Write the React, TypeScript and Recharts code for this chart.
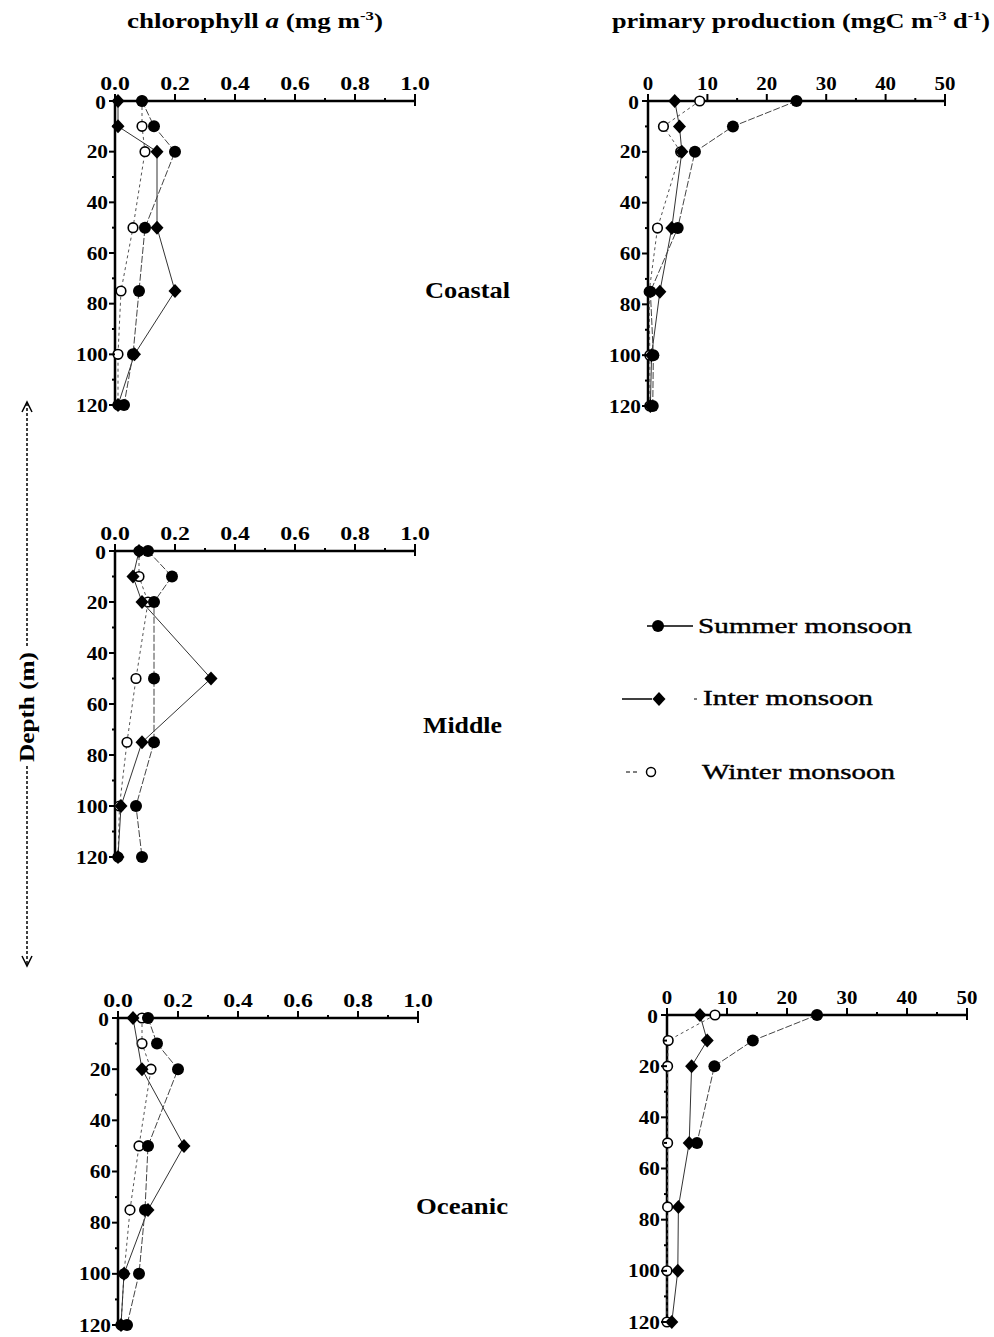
import React from 'react';
import { ScatterChart, Scatter, XAxis, YAxis } from 'recharts';

// ---------- data ----------
const depths = [0, 10, 20, 50, 75, 100, 120];
const depthTicks = [0, 10, 20, 30, 40, 50, 60, 70, 80, 90, 100, 110, 120];
const chlTicks = [0, 0.1, 0.2, 0.3, 0.4, 0.5, 0.6, 0.7, 0.8, 0.9, 1.0];
const ppTicks = [0, 5, 10, 15, 20, 25, 30, 35, 40, 45, 50];

// Coastal chlorophyll a (mg m-3)
const coastalChlSummer = [0.09, 0.13, 0.2, 0.1, 0.08, 0.06, 0.03];
const coastalChlInter = [0.01, 0.01, 0.14, 0.14, 0.2, 0.065, 0.01];
const coastalChlWinter = [0.09, 0.09, 0.1, 0.06, 0.02, 0.01, 0.01];

// Coastal primary production (mgC m-3 d-1)
const coastalPPSummer = [25, 14.3, 7.9, 5.0, 0.4, 0.9, 0.8];
const coastalPPInter = [4.5, 5.3, 5.7, 4.0, 2.0, 0.6, 0.4];
const coastalPPWinter = [8.7, 2.6, 5.5, 1.6, 0.2, 0.3, 0.3];

// Middle chlorophyll a
const middleChlSummer = [0.11, 0.19, 0.13, 0.13, 0.13, 0.07, 0.09];
const middleChlInter = [0.08, 0.06, 0.09, 0.32, 0.09, 0.02, 0.01];
const middleChlWinter = [0.08, 0.08, 0.11, 0.07, 0.04, 0.015, 0.01];

// Oceanic chlorophyll a
const oceanicChlSummer = [0.1, 0.13, 0.2, 0.1, 0.09, 0.07, 0.03];
const oceanicChlInter = [0.05, null, 0.08, 0.22, 0.1, 0.02, 0.01];
const oceanicChlWinter = [0.08, 0.08, 0.11, 0.07, 0.04, 0.02, 0.01];

// Oceanic primary production
const oceanicPPSummer = [25, 14.3, 7.9, 5.0, null, null, null];
const oceanicPPInter = [5.5, 6.7, 4.1, 3.7, 1.9, 1.8, 0.8];
const oceanicPPWinter = [8.0, 0.2, 0.1, 0.1, 0.1, 0.0, 0.0];

const seriesNames = ['Summer monsoon', 'Inter monsoon', 'Winter monsoon'];
const regionNames = ['Coastal', 'Middle', 'Oceanic'];

// ---------- helpers ----------
const FONT = "'Liberation Serif', 'Times New Roman', serif";

const toPoints = (vals: (number | null)[]) =>
  depths
    .map((d, i) => ({ x: vals[i], y: d }))
    .filter((p) => p.x !== null && p.x !== undefined) as { x: number; y: number }[];

const SummerDot = (p: any) => <circle cx={p.cx} cy={p.cy} r={6} fill="#000" />;
const InterDot = (p: any) => (
  <polygon
    points={`${p.cx},${p.cy - 7} ${p.cx + 6.5},${p.cy} ${p.cx},${p.cy + 7} ${p.cx - 6.5},${p.cy}`}
    fill="#000"
  />
);
const WinterDot = (p: any) => (
  <circle cx={p.cx} cy={p.cy} r={4.8} fill="#fff" stroke="#000" strokeWidth={1.6} />
);

const AXIS_X = 70; // y-axis line x within chart svg
const AXIS_Y = 50; // x-axis line y within chart svg

const charWidth = (s: string) =>
  s.split('').reduce((a, c) => a + (c === '.' ? 0.25 : 0.5), 0);

const makeXTick =
  (kind: 'chl' | 'pp') =>
  (props: any) => {
    const { x, payload } = props;
    const v: number = payload.value;
    const major = kind === 'chl' ? Math.round(v * 10) % 2 === 0 : Math.round(v) % 10 === 0;
    const isEnd = kind === 'chl' ? Math.abs(v - 1) < 1e-9 : v === 50;
    const label = kind === 'chl' ? v.toFixed(1) : String(v);
    const fs = 19;
    const stretch = kind === 'chl' ? 1.25 : 1.1;
    return (
      <g>
        <line x1={x} x2={x} y1={AXIS_Y} y2={AXIS_Y - (major ? 7 : 3)} stroke="#000" strokeWidth={2} />
        {isEnd && <line x1={x} x2={x} y1={AXIS_Y} y2={AXIS_Y + 5} stroke="#000" strokeWidth={2} />}
        {major && (
          <text
            x={x}
            y={AXIS_Y - 11}
            textAnchor="middle"
            style={{ fontFamily: FONT, fontWeight: 'bold', fontSize: fs }}
            fill="#000"
            textLength={charWidth(label) * fs * stretch}
            lengthAdjust="spacingAndGlyphs"
          >
            {label}
          </text>
        )}
      </g>
    );
  };

const YTick = (props: any) => {
  const { y, payload } = props;
  const v: number = payload.value;
  const major = v % 20 === 0;
  const label = String(v);
  const fs = 19;
  return (
    <g>
      <line x1={AXIS_X} x2={AXIS_X - (major ? 6 : 3)} y1={y} y2={y} stroke="#000" strokeWidth={2} />
      {major && (
        <text
          x={AXIS_X - (v === 0 ? 9 : 7)}
          y={y + (v === 0 ? 8 : 6.5)}
          textAnchor="end"
          style={{ fontFamily: FONT, fontWeight: 'bold', fontSize: fs }}
          fill="#000"
          textLength={charWidth(label) * fs * 1.12}
          lengthAdjust="spacingAndGlyphs"
        >
          {label}
        </text>
      )}
    </g>
  );
};

const ChlTick = makeXTick('chl');
const PPTick = makeXTick('pp');

type PanelProps = {
  box: [number, number, number, number];
  kind: 'chl' | 'pp';
  summer: (number | null)[];
  inter: (number | null)[];
  winter: (number | null)[];
};

const Panel = ({ box, kind, summer, inter, winter }: PanelProps) => {
  const [x0, y0, x1, y1] = box;
  const width = x1 - x0 + 100;
  const height = y1 - y0 + 60;
  const domain = kind === 'chl' ? [0, 1] : [0, 50];
  return (
    <div style={{ position: 'absolute', left: x0 - 70, top: y0 - 50, width, height }}>
      <ScatterChart width={width} height={height} margin={{ top: 20, left: 10, right: 30, bottom: 10 }}>
        <XAxis
          type="number"
          dataKey="x"
          orientation="top"
          domain={domain}
          ticks={kind === 'chl' ? chlTicks : ppTicks}
          interval={0}
          height={30}
          tick={kind === 'chl' ? ChlTick : PPTick}
          tickLine={false}
          tickSize={6}
          tickMargin={2}
          axisLine={{ stroke: '#000', strokeWidth: 2.5 }}
        />
        <YAxis
          type="number"
          dataKey="y"
          reversed
          domain={[0, 120]}
          ticks={depthTicks}
          interval={0}
          width={60}
          tick={YTick}
          tickLine={false}
          tickSize={6}
          tickMargin={2}
          axisLine={{ stroke: '#000', strokeWidth: 2.5 }}
        />
        <Scatter
          name={seriesNames[2]}
          data={toPoints(winter)}
          line={{ stroke: '#555', strokeWidth: 1, strokeDasharray: '3 3' }}
          lineType="joint"
          shape={WinterDot}
          isAnimationActive={false}
        />
        <Scatter
          name={seriesNames[1]}
          data={toPoints(inter)}
          line={{ stroke: '#333', strokeWidth: 1 }}
          lineType="joint"
          shape={InterDot}
          isAnimationActive={false}
        />
        <Scatter
          name={seriesNames[0]}
          data={toPoints(summer)}
          line={{ stroke: '#444', strokeWidth: 1, strokeDasharray: '7 2' }}
          lineType="joint"
          shape={SummerDot}
          isAnimationActive={false}
        />
      </ScatterChart>
    </div>
  );
};

const T = (p: any) => <text {...p} style={{ fontFamily: FONT, ...(p.style || {}) }} />;

const Overlay = () => (
  <svg
    width={994}
    height={1337}
    style={{ position: 'absolute', left: 0, top: 0, pointerEvents: 'none', fontFamily: FONT }}
  >
    {/* headers */}
    <T x={127} y={28} fontSize={21} fontWeight="bold" textLength={256} lengthAdjust="spacingAndGlyphs">
      chlorophyll <tspan fontStyle="italic">a</tspan> (mg m
      <tspan fontSize={13} dy={-8}>-3</tspan>
      <tspan dy={8}>)</tspan>
    </T>
    <T x={612} y={28} fontSize={21} fontWeight="bold" textLength={378} lengthAdjust="spacingAndGlyphs">
      primary production (mgC m<tspan fontSize={13} dy={-8}>-3</tspan>
      <tspan dy={8}> d</tspan>
      <tspan fontSize={13} dy={-8}>-1</tspan>
      <tspan dy={8}>)</tspan>
    </T>

    {/* region labels */}
    <T x={425} y={298} fontSize={24} fontWeight="bold" textLength={85} lengthAdjust="spacingAndGlyphs">
      {regionNames[0]}
    </T>
    <T x={423} y={733} fontSize={24} fontWeight="bold" textLength={79} lengthAdjust="spacingAndGlyphs">
      {regionNames[1]}
    </T>
    <T x={416} y={1214} fontSize={24} fontWeight="bold" textLength={92} lengthAdjust="spacingAndGlyphs">
      {regionNames[2]}
    </T>

    {/* depth axis label with arrows */}
    <line x1={27} x2={27} y1={403} y2={648} stroke="#000" strokeWidth={1.5} strokeDasharray="3 2" />
    <line x1={27} x2={27} y1={766} y2={965} stroke="#000" strokeWidth={1.5} strokeDasharray="3 2" />
    <polyline points="22,412 27,402 32,412" fill="none" stroke="#000" strokeWidth={1.5} />
    <polyline points="22,956 27,966 32,956" fill="none" stroke="#000" strokeWidth={1.5} />
    <T
      x={0}
      y={0}
      transform="translate(34,707) rotate(-90)"
      textAnchor="middle"
      fontSize={20}
      fontWeight="bold"
      textLength={110}
      lengthAdjust="spacingAndGlyphs"
    >
      Depth (m)
    </T>

    {/* legend */}
    <line x1={647} x2={653} y1={626} y2={626} stroke="#000" strokeWidth={1.5} />
    <circle cx={658} cy={626} r={6} fill="#000" />
    <line x1={663} x2={693} y1={626} y2={626} stroke="#000" strokeWidth={1.5} />
    <T x={698} y={633} fontSize={22} stroke="#000" strokeWidth={0.4} textLength={214} lengthAdjust="spacingAndGlyphs">
      {seriesNames[0]}
    </T>

    <line x1={622} x2={652} y1={699} y2={699} stroke="#000" strokeWidth={1.5} />
    <polygon points="659,692 665.5,699 659,706 652.5,699" fill="#000" />
    <line x1={694} x2={697} y1={699} y2={699} stroke="#000" strokeWidth={1} />
    <T x={703} y={705} fontSize={22} stroke="#000" strokeWidth={0.4} textLength={170} lengthAdjust="spacingAndGlyphs">
      {seriesNames[1]}
    </T>

    <line x1={626} x2={630} y1={772} y2={772} stroke="#000" strokeWidth={1} />
    <line x1={633} x2={637} y1={772} y2={772} stroke="#000" strokeWidth={1} />
    <circle cx={651} cy={772} r={4.5} fill="#fff" stroke="#000" strokeWidth={1.5} />
    <T x={702} y={779} fontSize={22} stroke="#000" strokeWidth={0.4} textLength={193} lengthAdjust="spacingAndGlyphs">
      {seriesNames[2]}
    </T>
  </svg>
);

export default function App() {
  return (
    <div style={{ position: 'absolute', left: 0, top: 0, width: 994, height: 1337, background: '#fff', overflow: 'hidden' }}>
      <Panel box={[115, 101, 415, 405]} kind="chl" summer={coastalChlSummer} inter={coastalChlInter} winter={coastalChlWinter} />
      <Panel box={[648, 101, 945, 406]} kind="pp" summer={coastalPPSummer} inter={coastalPPInter} winter={coastalPPWinter} />
      <Panel box={[115, 551, 415, 857]} kind="chl" summer={middleChlSummer} inter={middleChlInter} winter={middleChlWinter} />
      <Panel box={[118, 1018, 418, 1325]} kind="chl" summer={oceanicChlSummer} inter={oceanicChlInter} winter={oceanicChlWinter} />
      <Panel box={[667, 1015, 967, 1322]} kind="pp" summer={oceanicPPSummer} inter={oceanicPPInter} winter={oceanicPPWinter} />
      <Overlay />
    </div>
  );
}
